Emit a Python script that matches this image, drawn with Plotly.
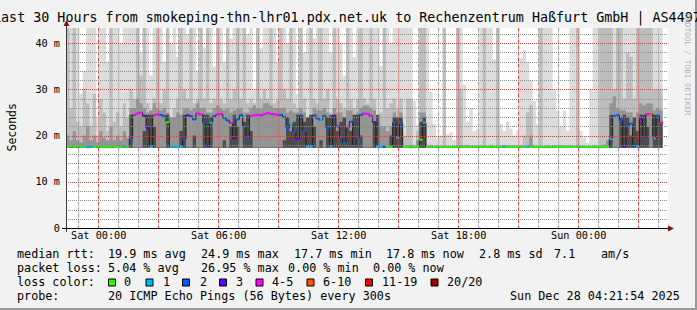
import plotly.graph_objects as go
from datetime import datetime, timedelta

# ---------------- data ----------------
start_time = "2025-12-26 22:21:54"
step_minutes = 10
span_hours = 30.1

median_rtt = [
    17.6, 17.7, 17.6, 17.7, 17.6, 17.6, 17.7, 17.6, 17.6, 17.7,
    17.6, 17.5, 17.6, 17.6, 17.7, 17.6, 17.6, 17.6, 17.7, 19.3,
    24.5, 24.8, 25.0, 24.3, 21.7, 17.6, 24.4, 24.6, 24.5, 24.2,
    22.9, 17.5, 17.6, 17.5, 17.6, 19.2, 24.4, 24.2, 23.5, 24.8,
    24.6, 22.8, 17.7, 22.8, 24.2, 24.6, 24.7, 23.8, 23.3, 22.7,
    19.3, 23.5, 24.4, 22.0, 19.5, 24.3, 24.4, 24.5, 24.4, 24.6,
    24.9, 24.7, 24.6, 24.5, 24.5, 24.0, 21.6, 22.5, 20.9, 19.3,
    24.3, 21.0, 17.6, 17.6, 24.4, 23.7, 23.3, 24.3, 21.6, 17.6,
    24.3, 22.0, 19.5, 18.4, 21.8, 23.0, 17.8, 19.5, 24.5, 24.8,
    24.7, 24.3, 22.9, 17.6, 17.6, 17.6, 17.6, 17.6, 22.8, 19.6,
    22.6, 17.6, 17.6, 17.7, 17.6, 17.6, 19.1, 22.8, 17.6, 17.6,
    17.6, 17.7, 17.6, 17.6, 17.6, 17.5, 17.6, 17.6, 17.7, 17.6,
    17.6, 17.6, 17.6, 17.7, 17.6, 17.6, 17.6, 17.5, 17.6, 17.6,
    17.6, 17.7, 17.6, 17.6, 17.6, 17.6, 17.7, 17.6, 17.6, 17.6,
    17.6, 17.6, 17.5, 17.6, 17.6, 17.6, 17.7, 17.6, 17.6, 17.6,
    17.6, 17.6, 17.6, 17.7, 17.6, 17.6, 17.6, 17.5, 17.6, 17.6,
    17.6, 17.6, 17.6, 19.3, 24.3, 24.4, 23.3, 17.6, 22.2, 22.6,
    17.6, 17.7, 23.6, 19.5, 24.6, 24.7, 19.4, 24.3, 22.8, None,
]

loss_count = [
    0, 0, 0, 0, 0, 0, 1, 1, 0, 0,
    0, 0, 0, 0, 0, 0, 0, 1, 0, 2,
    4, 4, 4, 3, 3, 1, 4, 4, 2, 2,
    0, 1, 1, 1, 1, 2, 3, 2, 2, 4,
    4, 2, 3, 1, 2, 4, 4, 2, 2, 4,
    3, 2, 2, 2, 2, 4, 4, 4, 4, 4,
    5, 4, 4, 4, 2, 2, 2, 1, 2, 3,
    2, 2, 1, 1, 2, 2, 1, 2, 2, 1,
    3, 2, 2, 2, 4, 2, 2, 2, 2, 4,
    4, 4, 3, 1, 1, 2, 0, 0, 2, 1,
    2, 0, 0, 0, 0, 0, 0, 1, 0, 0,
    0, 0, 0, 0, 0, 0, 0, 0, 0, 0,
    0, 0, 0, 0, 0, 0, 0, 0, 0, 0,
    0, 1, 0, 0, 0, 0, 0, 0, 1, 0,
    0, 0, 0, 0, 0, 0, 0, 0, 0, 0,
    0, 0, 0, 0, 0, 0, 0, 0, 0, 0,
    0, 0, 0, 1, 2, 2, 2, 3, 2, 2,
    2, 1, 3, 2, 4, 6, 1, 2, 4, None,
]

ping_floor = [
    17.4, 17.4, 17.4, 17.4, 17.4, 17.4, 17.4, 17.4, 17.4, 17.4,
    17.4, 17.4, 17.4, 17.4, 17.4, 17.4, 17.4, 17.4, 17.4, 17.4,
    17.4, 17.4, 17.4, 17.4, 17.4, 17.4, 17.4, 17.4, 17.4, 17.4,
    17.4, 17.4, 17.4, 17.4, 17.4, 17.4, 17.4, 17.4, 17.4, 17.4,
    17.4, 17.4, 17.4, 17.4, 17.4, 17.4, 17.4, 17.4, 17.4, 17.4,
    17.4, 17.4, 17.4, 17.4, 17.4, 17.4, 17.4, 17.4, 17.4, 17.4,
    17.4, 17.4, 17.4, 17.4, 17.4, 17.4, 17.4, 17.4, 17.4, 17.4,
    17.4, 17.4, 17.4, 17.4, 17.4, 17.4, 17.4, 17.4, 17.4, 17.4,
    17.4, 17.4, 17.4, 17.4, 17.4, 17.4, 17.4, 17.4, 17.4, 17.4,
    17.4, 17.4, 17.4, 17.4, 17.4, 17.4, 17.4, 17.4, 17.4, 17.4,
    17.4, 17.4, 17.4, 17.4, 17.4, 17.4, 17.4, 17.4, 17.4, 17.4,
    17.4, 17.4, 17.4, 17.4, 17.4, 17.4, 17.4, 17.4, 17.4, 17.4,
    17.4, 17.4, 17.4, 17.4, 17.4, 17.4, 17.4, 17.4, 17.4, 17.4,
    17.4, 17.4, 17.4, 17.4, 17.4, 17.4, 17.4, 17.4, 17.4, 17.4,
    17.4, 17.4, 17.4, 17.4, 17.4, 17.4, 17.4, 17.4, 17.4, 17.4,
    17.4, 17.4, 17.4, 17.4, 17.4, 17.4, 17.4, 17.4, 17.4, 17.4,
    17.4, 17.4, 17.4, 17.4, 17.4, 17.4, 17.4, 17.4, 17.4, 17.4,
    17.4, 17.4, 17.4, 17.4, 17.4, 17.4, 17.4, 17.4, 17.4, None,
]

# outermost (lightest) smoke top
smoke_outer = [
    45, 45, 45, 45, 29, 34, 45, 45, 45, 24,
    45, 45, 36, 45, 45, 45, 40, 45, 45, 45,
    45, 45, 38, 45, 45, 33, 45, 41, 45, 36,
    45, 40, 45, 37, 45, 45, 42, 45, 45, 34,
    45, 39, 45, 45, 35, 45, 45, 36, 45, 41,
    45, 37, 45, 45, 42, 45, 30, 45, 39, 45,
    45, 43, 45, 36, 45, 45, 40, 45, 45, 29,
    45, 38, 45, 45, 41, 45, 35, 45, 45, 38,
    45, 45, 40, 33, 45, 45, 37, 45, 42, 45,
    45, 39, 45, 45, 35, 45, 45, 40, 45, 45,
    45, 45, 45, 45, 27.5, 22.3, 45, 45, 45, 29.5,
    22.5, 19.4, 20, 45, 20.3, 20.8, 19.1, 45, 45, 31,
    23, 26, 21, 21.5, 45, 45, 45, 45, 36.5, 45,
    22.5, 21, 23, 21.5, 20, 21, 36.7, 38.5, 36, 32,
    27.5, 22.5, 45, 45, 45, 45, 30, 25.4, 22, 25.4,
    21, 45, 45, 45, 21, 19.5, 18.4, 30, 45, 45,
    45, 45, 45, 45, 45, 45, 45, 45, 45, 45,
    45, 45, 45, 45, 45, 45, 45, 45, 45, None,
]

smoke_upper = [
    45, 26, 45, 23, 22, 30, 27, 22, 29, 20,
    28, 25, 21, 45, 23, 25, 22, 27, 24, 30,
    28, 45, 33, 45, 27, 25, 28, 45, 27, 30,
    45, 24, 26, 28, 45, 30, 28, 45, 27, 28,
    45, 28, 45, 27, 28, 45, 28, 27, 45, 28,
    30, 45, 28, 45, 27, 28, 27, 45, 28, 30,
    28, 45, 27, 28, 45, 30, 28, 45, 27, 26,
    45, 28, 24, 45, 28, 27, 45, 28, 30, 25,
    45, 28, 27, 26, 45, 28, 26, 28, 45, 28,
    27, 45, 28, 24, 25, 45, 26, 27, 28, 26,
    28, 20, 28, 28, 18, 21, 45, 45, 18, 18,
    17.5, 17.5, 17.5, 45, 17.5, 17.5, 17.5, 45, 30, 17.5,
    18, 17.5, 17.5, 17.5, 17.5, 45, 17.5, 18, 17.5, 45,
    17.5, 17.5, 17.5, 17.5, 17.5, 17.5, 17.5, 20, 25, 26.7,
    18, 17.5, 45, 17.5, 18, 17.5, 17.5, 17.5, 17.5, 17.5,
    17.5, 17.5, 17.5, 45, 17.5, 17.5, 17.5, 17.5, 18, 17.5,
    45, 45, 45, 45, 30, 45, 45, 28, 38, 37,
    28, 45, 45, 45, 45, 45, 30, 30, 30, None,
]

smoke_core = [
    20, 19, 21, 19, 18.5, 20, 22, 19, 20, 18.5,
    21, 19.5, 19, 22, 19, 20, 19, 21, 19.5, 26,
    26, 28, 27, 26, 25, 25.5, 27, 26, 25.5, 26,
    25, 24, 24, 25, 24.5, 26, 26, 25.5, 26, 27,
    26, 26, 25, 25, 26, 26.5, 26, 25.5, 26, 25,
    25.5, 26, 26, 25, 25, 26, 26.5, 26, 26, 27,
    27, 26.5, 26, 26, 26, 26, 25, 25.5, 25, 25,
    26, 25, 23, 24, 26, 25.5, 25.5, 26, 25, 24,
    26, 25, 25, 24, 25.5, 25.5, 24.5, 25, 26, 26.5,
    26.5, 26, 25.5, 23, 22, 22, 21, 22, 25, 24,
    25, 17.5, 17.5, 17.5, 17.5, 19, 25, 25, 17.5, 17.5,
    17.5, 17.5, 17.5, 17.5, 17.5, 17.5, 17.5, 17.5, 17.5, 17.5,
    17.5, 17.5, 17.5, 17.5, 17.5, 17.5, 17.5, 17.5, 17.5, 17.5,
    17.5, 17.5, 17.5, 17.5, 17.5, 17.5, 17.5, 17.5, 17.5, 20,
    17.5, 17.5, 17.5, 17.5, 17.5, 17.5, 17.5, 17.5, 17.5, 17.5,
    17.5, 17.5, 17.5, 17.5, 17.5, 17.5, 17.5, 17.5, 17.5, 17.5,
    17.5, 18, 19, 27, 28.5, 26, 25.5, 25.5, 25, 25,
    23, 25, 27, 26.5, 27, 27, 25.5, 26, 25.5, None,
]

smoke_dense = [
    17.5, 17.5, 17.5, 17.5, 17.5, 17.5, 17.5, 17.5, 17.5, 17.5,
    17.5, 17.5, 17.5, 17.5, 17.5, 17.5, 17.5, 17.5, 17.5, 24.5,
    17.5, 17.5, 17.5, 21, 24.5, 24.5, 22, 17.5, 17.5, 17.5,
    24.5, 17.5, 17.5, 17.5, 21, 24.5, 17.5, 17.5, 20, 17.5,
    17.5, 24.5, 24.5, 24, 17.5, 17.5, 17.5, 19, 17.5, 22,
    24.5, 22, 17.5, 23, 24.5, 21, 17.5, 17.5, 17.5, 17.5,
    17.5, 17.5, 17.5, 17.5, 17.5, 19, 24, 21, 23, 24.5,
    24.5, 23, 24, 24.5, 22, 17.5, 19, 17.5, 24, 24.5,
    24.5, 21, 23, 24, 22, 21, 24.5, 24.5, 20, 17.5,
    17.5, 17.5, 23, 24.5, 17.5, 17.5, 17.5, 20, 24, 24,
    24, 17.5, 17.5, 17.5, 17.5, 17.5, 23, 24, 17.5, 17.5,
    17.5, 17.5, 17.5, 17.5, 17.5, 17.5, 17.5, 17.5, 17.5, 17.5,
    17.5, 17.5, 17.5, 17.5, 17.5, 17.5, 17.5, 17.5, 17.5, 17.5,
    17.5, 17.5, 17.5, 17.5, 17.5, 17.5, 17.5, 17.5, 17.5, 17.5,
    17.5, 17.5, 17.5, 17.5, 17.5, 17.5, 17.5, 17.5, 17.5, 17.5,
    17.5, 17.5, 17.5, 17.5, 17.5, 17.5, 17.5, 17.5, 17.5, 17.5,
    17.5, 17.5, 17.5, 24.5, 17.5, 17.5, 24, 24.5, 24, 20,
    24, 21, 24.5, 24.5, 22, 17.5, 24.5, 24.5, 23, None,
]

x_grid_times = ["2025-12-27 00:00", "2025-12-27 03:00", "2025-12-27 06:00",
                "2025-12-27 09:00", "2025-12-27 12:00", "2025-12-27 15:00",
                "2025-12-27 18:00", "2025-12-27 21:00", "2025-12-28 00:00",
                "2025-12-28 03:00"]
x_grid_labels = ["Sat 00:00", "", "Sat 06:00", "", "Sat 12:00", "",
                 "Sat 18:00", "", "Sun 00:00", ""]
y_tick_vals = [0, 10, 20, 30, 40]
y_tick_text = ["0", "10 m", "20 m", "30 m", "40 m"]
y_range_max = 43.3

loss_labels = ["0", "1", "2", "3", "4-5", "6-10", "11-19", "20/20"]
loss_colors = ["#26ff00", "#00b8ff", "#0059ff", "#5e00ff", "#ff00ff",
               "#ff5500", "#ff0000", "#a10000"]

title_text = "Last 30 Hours from smokeping-thn-lhr01.pdx.net.uk to Rechenzentrum Haßfurt GmbH | AS4497"
rtt_stats = ["19.9 ms avg", "24.9 ms max", "17.7 ms min", "17.8 ms now", "2.8 ms sd", "7.1", "am/s"]
loss_stats = ["5.04 % avg", "26.95 % max", "0.00 % min", "0.00 % now"]
probe_text = "20 ICMP Echo Pings (56 Bytes) every 300s"
stamp_text = "Sun Dec 28 04:21:54 2025"
watermark = "RRDTOOL / TOBI OETIKER"

# ---------------- layout constants (pixels) ----------------
W, H = 697, 310
PL, PR, PT, PB = 66, 668, 28, 228
MONO = "DejaVu Sans Mono"

t0 = datetime.strptime(start_time, "%Y-%m-%d %H:%M:%S")
step = timedelta(minutes=step_minutes)
bin_starts = [t0 + i * step for i in range(len(median_rtt))]
t_end = t0 + timedelta(hours=span_hours)


def px_x(p):
    return (p - PL) / (PR - PL)


def px_y(p):
    return (PB - p) / (PB - PT)


def step_xy(values):
    xs, ys = [], []
    last_t, last_v = None, None
    for t, v in zip(bin_starts, values):
        if v is None:
            continue
        xs.append(t)
        ys.append(v)
        last_t, last_v = t, v
    xs.append(last_t + step)
    ys.append(last_v)
    return xs, ys


def loss_class(n):
    if n <= 3:
        return n
    if n <= 5:
        return 4
    if n <= 10:
        return 5
    if n <= 19:
        return 6
    return 7


MAJ = "#dc4848"
MIN = "#8c8c8c"

fig = go.Figure()

# smoke layers
for vals, col in [(smoke_outer, "#dcdcdc"), (smoke_upper, "#bdbdbd"),
                  (smoke_core, "#959595"), (smoke_dense, "#4c4c4c")]:
    fx, fy = step_xy(ping_floor)
    fig.add_trace(go.Scatter(x=fx, y=fy, mode="lines", line=dict(width=0, shape="hv"),
                             hoverinfo="skip", showlegend=False))
    sx, sy = step_xy(vals)
    fig.add_trace(go.Scatter(x=sx, y=sy, mode="lines", line=dict(width=0, shape="hv"),
                             fill="tonexty", fillcolor=col, hoverinfo="skip", showlegend=False))

# vertical grid repeated over the smoke (hourly / 3-hourly)
vx_maj, vy_maj, vx_min, vy_min = [], [], [], []
g = datetime(t0.year, t0.month, t0.day, t0.hour) + timedelta(hours=1)
while g < t_end:
    if g.hour % 3 == 0:
        vx_maj += [g, g, None]
        vy_maj += [0, y_range_max, None]
    else:
        vx_min += [g, g, None]
        vy_min += [0, y_range_max, None]
    g += timedelta(hours=1)
fig.add_trace(go.Scatter(x=vx_min, y=vy_min, mode="lines", connectgaps=False,
                         line=dict(color="rgba(130,130,130,0.45)", width=1),
                         hoverinfo="skip", showlegend=False))
fig.add_trace(go.Scatter(x=vx_maj, y=vy_maj, mode="lines", connectgaps=False,
                         line=dict(color="rgba(225,80,80,0.55)", width=1),
                         hoverinfo="skip", showlegend=False))

# median line (dark connectors)
mx, my = [], []
for t, m in zip(bin_starts, median_rtt):
    if m is None:
        continue
    mx += [t, t + step]
    my += [m, m]
fig.add_trace(go.Scatter(x=mx, y=my, mode="lines", line=dict(color="#1a1a1a", width=1),
                         hoverinfo="skip", showlegend=False))

# coloured median segments by loss
for ci, col in enumerate(loss_colors):
    sx, sy = [], []
    for t, m, n in zip(bin_starts, median_rtt, loss_count):
        if m is None or loss_class(n) != ci:
            continue
        sx += [t, t + step, None]
        sy += [m, m, None]
    if sx:
        fig.add_trace(go.Scatter(x=sx, y=sy, mode="lines", line=dict(color=col, width=2),
                                 hoverinfo="skip", showlegend=False))

shapes = []
for v in range(2, 44, 2):
    p = PB - v * (PB - PT) / y_range_max
    p = round(p) + 0.5
    col = MAJ if v % 10 == 0 else MIN
    shapes.append(dict(type="line", xref="paper", yref="paper", x0=0, x1=1,
                       y0=px_y(p), y1=px_y(p), line=dict(color=col, width=1, dash="1px,1px"),
                       layer="above"))

# axes lines and arrows
shapes.append(dict(type="line", xref="paper", yref="paper", x0=px_x(62), x1=px_x(669),
                   y0=px_y(228.5), y1=px_y(228.5), line=dict(color="black", width=1), layer="above"))
shapes.append(dict(type="line", xref="paper", yref="paper", x0=px_x(66.5), x1=px_x(66.5),
                   y0=px_y(232), y1=px_y(25), line=dict(color="#3a3a3a", width=1), layer="above"))
shapes.append(dict(type="path", xref="paper", yref="paper",
                   path=f"M {px_x(668)} {px_y(225.5)} L {px_x(674)} {px_y(228.5)} L {px_x(668)} {px_y(231.5)} Z",
                   fillcolor="#7f1010", line=dict(width=0), layer="above"))
shapes.append(dict(type="path", xref="paper", yref="paper",
                   path=f"M {px_x(63.5)} {px_y(26)} L {px_x(66.5)} {px_y(20)} L {px_x(69.5)} {px_y(26)} Z",
                   fillcolor="#7f1010", line=dict(width=0), layer="above"))

# image frame (bottom / right shade)
shapes.append(dict(type="rect", xref="paper", yref="paper", x0=px_x(0), x1=px_x(697),
                   y0=px_y(308), y1=px_y(310), fillcolor="#9a9a9a", line=dict(width=0), layer="above"))
shapes.append(dict(type="rect", xref="paper", yref="paper", x0=px_x(695), x1=px_x(697),
                   y0=px_y(0), y1=px_y(310), fillcolor="#9a9a9a", line=dict(width=0), layer="above"))

# legend colour boxes
box_x = [108.5, 146, 182.5, 219.5, 256, 307, 365.5, 431]
label_x = [123, 161.5, 198.5, 235, 270.5, 321.5, 380.5, 446]
for bx, col in zip(box_x, loss_colors):
    shapes.append(dict(type="rect", xref="paper", yref="paper", x0=px_x(bx), x1=px_x(bx + 7),
                       y0=px_y(279), y1=px_y(286), fillcolor=col,
                       line=dict(color="black", width=1), layer="above"))

ann = []


def text(x, y, s, size, anchor="left", color="black", angle=0):
    ann.append(dict(x=px_x(x), y=px_y(y), xref="paper", yref="paper", text=s, showarrow=False,
                    xanchor=anchor, yanchor="middle", borderpad=0, textangle=angle,
                    font=dict(family=MONO, size=size, color=color)))


LEG = 11.75
text(346.5, 18, title_text, 13.37, anchor="center")
text(11, 127.5, "Seconds", 11.5, anchor="center", angle=-90)
text(687.5, 64, watermark, 7.7, anchor="center", color="#b0b0b0", angle=90)

row1 = 254
text(16, row1, "median rtt:", LEG)
for xx, s in zip([107.3, 200, 292.7, 385, 478, 553, 600], rtt_stats):
    text(xx, row1, s, LEG)
row2 = 268
text(16, row2, "packet loss:", LEG)
for xx, s in zip([107.3, 200, 286.7, 371.7], loss_stats):
    text(xx, row2, s, LEG)
row3 = 282.3
text(16, row3, "loss color:", LEG)
for xx, s in zip(label_x, loss_labels):
    text(xx, row3, s, LEG)
row4 = 296.3
text(16, row4, "probe:", LEG)
text(107.3, row4, probe_text, LEG)
text(680.5, row4, stamp_text, LEG, anchor="right")

fig.update_layout(
    width=W, height=H, autosize=False,
    margin=dict(l=PL, r=W - PR, t=PT, b=H - PB, pad=0),
    paper_bgcolor="#f2f2f2", plot_bgcolor="white",
    showlegend=False,
    font=dict(family=MONO, size=10.2, color="black"),
    shapes=shapes, annotations=ann,
    xaxis=dict(type="date", range=[t0, t_end], zeroline=False, showline=False,
               tickmode="array", tickvals=x_grid_times, ticktext=x_grid_labels, ticks="",
               showgrid=True, gridcolor=MAJ, gridwidth=1, griddash="dot",
               minor=dict(tickmode="linear", tick0="2025-12-27 00:00", dtick=3600000,
                          showgrid=True, gridcolor="#b4b4b4", gridwidth=1, griddash="dot"),
               tickfont=dict(family=MONO, size=10.2), fixedrange=True),
    yaxis=dict(range=[0, y_range_max], showgrid=False, zeroline=False, showline=False,
               tickmode="array", tickvals=y_tick_vals, ticktext=y_tick_text, ticks="",
               ticklabelstandoff=5,
               tickfont=dict(family=MONO, size=10.2), fixedrange=True),
)

fig.write_html("out.html", config={"displayModeBar": False})
